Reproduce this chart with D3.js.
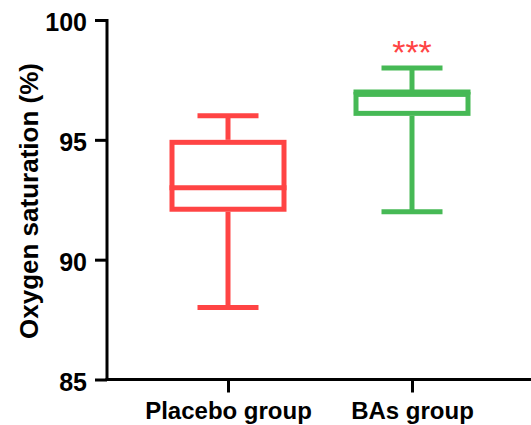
<!DOCTYPE html>
<html>
<head>
<meta charset="utf-8">
<script src="https://cdn.jsdelivr.net/npm/d3@7"></script>
<style>
  body { margin: 0; background: #fff; }
  text { font-family: "Liberation Sans", Arial, sans-serif; font-weight: bold; }
</style>
</head>
<body>
<div class="chart"></div>
<script>
// DATA
// ----------------------------
const groups = ['Placebo group', 'BAs group']
const mins = [88, 92]
const q1s = [92, 96]
const medians = [93, 97]
const q3s = [95, 97]
const maxs = [96, 98]
const colors = ['#ff4444', '#46b955']
const yTicks = [85, 90, 95, 100]
const significance = ['', '***']

// SETUP
// ----------------------------
const margin = { top: 20, bottom: 46, left: 107, right: 0 }
const fullWidth = 531
const fullHeight = 425
const width = fullWidth - margin.left - margin.right
const height = fullHeight - margin.top - margin.bottom

const svg = d3.select('.chart')
  .append('svg')
    .attr('width', fullWidth)
    .attr('height', fullHeight)
  .append('g')
    .attr('transform', `translate(${margin.left}, ${margin.top})`)

// Y SCALE and AXIS
// ----------------------------
const yScale = d3.scaleLinear()
  .domain([85, 100])
  .range([height + 0.5, 0])

const yAxis = d3.axisLeft(yScale)
  .tickValues(yTicks)
  .tickSize(12)
  .tickPadding(8)

const yG = svg.append('g').call(yAxis)
yG.select('.domain').attr('stroke-width', 3).attr('d', `M0,${yScale(85)}V${yScale(100) - 1}`)
yG.selectAll('.tick line').attr('stroke-width', 3)
yG.selectAll('.tick text')
  .style('font-size', '25px')
  .attr('dy', '0.42em')
  .attr('fill', '#000')

// X SCALE and AXIS
// ----------------------------
const xScale = d3.scalePoint()
  .domain(groups)
  .range([121, 305])

const xAxis = d3.axisBottom(xScale)
  .tickSize(13)
  .tickPadding(9)

const xG = svg.append('g')
  .attr('transform', `translate(0, ${yScale(85)})`)
  .call(xAxis)
xG.select('.domain').attr('stroke-width', 3).attr('d', `M-1.5,0H${width}`)
xG.selectAll('.tick line').attr('stroke-width', 3)
xG.selectAll('.tick text').style('font-size', '24px').attr('fill', '#000')

// Y LABEL
// ----------------------------
svg.append('text')
  .attr('transform', `translate(${38 - margin.left}, ${201 - margin.top}) rotate(-90)`)
  .attr('text-anchor', 'middle')
  .style('font-size', '26px')
  .text('Oxygen saturation (%)')

// BOXES
// ----------------------------
const sw = 5
const boxW = 117
const capW = 61

const boxes = svg.selectAll('.box')
  .data(groups)
  .enter()
  .append('g')
  .attr('class', 'box')
  .attr('transform', d => `translate(${xScale(d)}, 0)`)

boxes.each(function (d, i) {
  const g = d3.select(this)
  const c = colors[i]

  // whiskers
  g.append('line')
    .attr('x1', 0).attr('x2', 0)
    .attr('y1', yScale(maxs[i])).attr('y2', yScale(q3s[i]))
    .attr('stroke', c).attr('stroke-width', sw)
  g.append('line')
    .attr('x1', 0).attr('x2', 0)
    .attr('y1', yScale(q1s[i])).attr('y2', yScale(mins[i]))
    .attr('stroke', c).attr('stroke-width', sw)

  // caps
  ;[maxs[i], mins[i]].forEach(v => {
    g.append('line')
      .attr('x1', -capW / 2).attr('x2', capW / 2)
      .attr('y1', yScale(v)).attr('y2', yScale(v))
      .attr('stroke', c).attr('stroke-width', sw)
  })

  // box (stroke drawn inside)
  g.append('rect')
    .attr('x', -boxW / 2 + sw / 2)
    .attr('y', yScale(q3s[i]) + sw / 2)
    .attr('width', boxW - sw)
    .attr('height', yScale(q1s[i]) - yScale(q3s[i]) - sw)
    .attr('fill', '#fff')
    .attr('stroke', c).attr('stroke-width', sw)

  // median
  g.append('line')
    .attr('x1', -boxW / 2).attr('x2', boxW / 2)
    .attr('y1', yScale(medians[i])).attr('y2', yScale(medians[i]))
    .attr('stroke', c).attr('stroke-width', sw)

  // significance
  g.append('text')
    .attr('x', 0)
    .attr('y', yScale(maxs[i]) - 4)
    .attr('text-anchor', 'middle')
    .style('font-size', '34px')
    .style('font-weight', 'normal')
    .attr('fill', '#ff4444')
    .text(significance[i])
})
</script>
</body>
</html>
